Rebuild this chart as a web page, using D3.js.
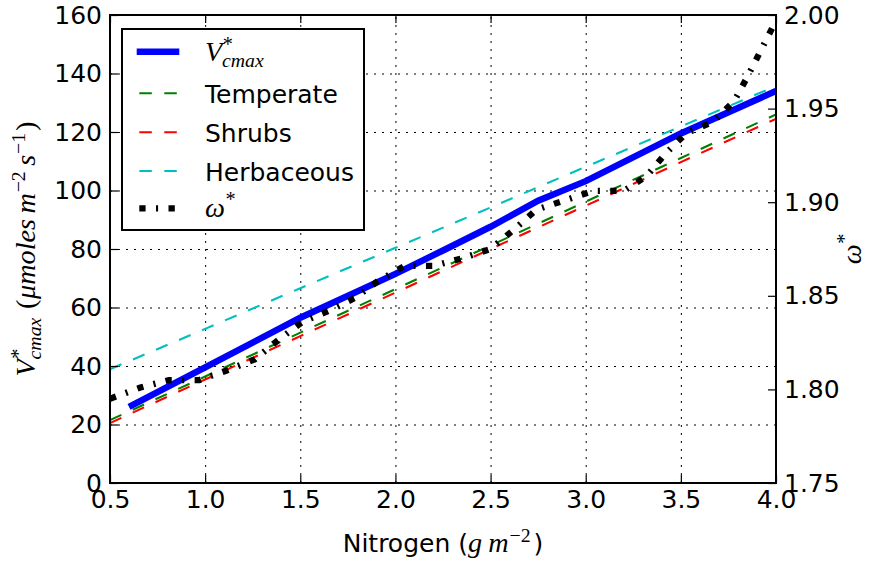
<!DOCTYPE html>
<html>
<head>
<meta charset="utf-8">
<script src="https://cdn.jsdelivr.net/npm/d3@7/dist/d3.min.js"></script>
<style>
  html, body { margin: 0; padding: 0; background: #fff; }
  svg { display: block; }
</style>
</head>
<body>
<svg id="chart" width="870" height="562"></svg>
<script>
// ---------------- data ----------------
const xTicks = [0.5, 1.0, 1.5, 2.0, 2.5, 3.0, 3.5, 4.0];
const yLeftTicks = [0, 20, 40, 60, 80, 100, 120, 140, 160];
const yRightTicks = [1.75, 1.80, 1.85, 1.90, 1.95, 2.00];

// Vcmax* (thick blue)
const nitrogenV = [0.6, 1.0, 1.5, 2.0, 2.25, 2.5, 2.75, 3.0, 3.5, 4.0];
const vcmax     = [26, 39.5, 56.5, 71.5, 79.5, 87.6, 96.5, 103.2, 119.5, 134];

// PFT dashed lines
const nitrogenPft = [0.5, 1.0, 1.5, 2.0, 2.5, 3.0, 3.5, 4.0];
const temperate   = [21.5, 36.4, 51.4, 66.3, 81.2, 96.2, 111.1, 126.0];
const shrubs      = [20.5, 35.4, 50.2, 65.1, 80.0, 94.8, 109.7, 124.5];
const herbaceous  = [38.9, 52.7, 66.6, 80.4, 94.2, 108.1, 121.9, 135.7];

// omega* (right axis)
const nitrogenW = [0.50, 0.66, 0.81, 0.97, 1.11, 1.26, 1.38, 1.51, 1.65, 1.79, 1.91, 2.05, 2.20,
                   2.35, 2.50, 2.63, 2.74, 2.89, 3.04, 3.20, 3.32, 3.42, 3.53, 3.67, 3.78, 3.85,
                   3.92, 4.00];
const omega     = [1.795, 1.801, 1.805, 1.805, 1.810, 1.816, 1.826, 1.836, 1.842, 1.849, 1.858,
                   1.866, 1.866, 1.870, 1.875, 1.886, 1.896, 1.901, 1.906, 1.906, 1.914, 1.926,
                   1.937, 1.943, 1.954, 1.967, 1.981, 1.997];

// ---------------- layout ----------------
const L = 110, R = 776, T = 15, B = 483;
const FS = 25;
const MS = 1.13; // math (serif) size factor
const svg = d3.select('#chart');
svg.append('rect').attr('width', 870).attr('height', 562).attr('fill', '#fff');

const x = d3.scaleLinear().domain([0.5, 4.0]).range([L, R]);
const yL = d3.scaleLinear().domain([0, 160]).range([B, T]);
const yR = d3.scaleLinear().domain([1.75, 2.0]).range([B, T]);

// grid
const gridStyle = g => {
  g.select('.domain').remove();
  g.selectAll('.tick line').attr('stroke', '#000').attr('stroke-width', 1)
    .attr('stroke-dasharray', '2,6');
};
svg.append('g').attr('transform', `translate(0,${B})`)
  .call(d3.axisBottom(x).tickValues(xTicks).tickSize(-(B - T)).tickFormat(''))
  .call(gridStyle);
svg.append('g').attr('transform', `translate(${L},0)`)
  .call(d3.axisLeft(yL).tickValues(yLeftTicks).tickSize(-(R - L)).tickFormat(''))
  .call(gridStyle);

// clip
svg.append('clipPath').attr('id', 'clip').append('rect')
  .attr('x', L).attr('y', T).attr('width', R - L).attr('height', B - T);
const plot = svg.append('g').attr('clip-path', 'url(#clip)');

const lineL = (xs) => d3.line().x((d, i) => x(xs[i])).y(d => yL(d));
const lineR = d3.line().x((d, i) => x(nitrogenW[i])).y(d => yR(d));

plot.append('path').datum(vcmax).attr('d', lineL(nitrogenV))
  .attr('fill', 'none').attr('stroke', '#0000ff').attr('stroke-width', 6.5);
[[temperate, '#008000'], [shrubs, '#ff0000'], [herbaceous, '#00bfbf']].forEach(([s, c]) => {
  plot.append('path').datum(s).attr('d', lineL(nitrogenPft))
    .attr('fill', 'none').attr('stroke', c).attr('stroke-width', 2.1)
    .attr('stroke-dasharray', '12.5,12.5');
});
plot.append('path').datum(omega).attr('d', lineR)
  .attr('fill', 'none').attr('stroke', '#000').attr('stroke-width', 6.3)
  .attr('stroke-dasharray', '6.3,10.4,2.1,10.4');

// axes (ticks inside)
const tickStyle = g => {
  g.select('.domain').remove();
  g.selectAll('.tick line').attr('stroke', '#000').attr('stroke-width', 1.2);
  g.selectAll('.tick text').attr('font-family', 'DejaVu Sans').attr('font-size', FS).attr('fill', '#000');
};
svg.append('g').attr('transform', `translate(0,${B})`)
  .call(d3.axisBottom(x).tickValues(xTicks).tickSize(-8).tickPadding(7).tickFormat(d3.format('.1f')))
  .call(tickStyle);
svg.append('g').attr('transform', `translate(0,${T})`)
  .call(d3.axisTop(x).tickValues(xTicks).tickSize(-8).tickFormat(''))
  .call(tickStyle);
svg.append('g').attr('transform', `translate(${L},0)`)
  .call(d3.axisLeft(yL).tickValues(yLeftTicks).tickSize(-8).tickPadding(8).tickFormat(d3.format('d')))
  .call(tickStyle);
svg.append('g').attr('transform', `translate(${R},0)`)
  .call(d3.axisRight(yR).tickValues(yRightTicks).tickSize(-8).tickPadding(8).tickFormat(d3.format('.2f')))
  .call(tickStyle);

// spines
svg.append('rect').attr('x', L).attr('y', T).attr('width', R - L).attr('height', B - T)
  .attr('fill', 'none').attr('stroke', '#000').attr('stroke-width', 2);

// ---------------- math text helper ----------------
function mathText(parent, pieces, fs) {
  const g = parent.append('g');
  let pen = 0, lastStart = 0;
  pieces.forEach(p => {
    if (p.gap) { pen += p.gap * fs; return; }
    const size = fs * (p.s || 1) * (p.sans ? 1 : MS);
    const sx = p.back ? lastStart + (p.bx || 0) * fs : pen + (p.dx || 0) * fs;
    const t = g.append('text').attr('x', sx).attr('y', (p.dy || 0) * fs)
      .attr('font-family', p.sans ? 'DejaVu Sans' : 'Liberation Serif')
      .attr('font-style', p.i ? 'italic' : 'normal')
      .attr('font-size', size).attr('fill', '#000').text(p.t);
    const w = t.node().getComputedTextLength();
    if (!p.back) lastStart = sx;
    pen = Math.max(pen, sx + w);
  });
  return { g, width: pen };
}
const vcmaxPieces = [
  { t: 'V', i: 1 },
  { t: '*', s: 0.72, dy: -0.42, dx: 0.02 },
  { t: 'cmax', i: 1, s: 0.7, dy: 0.25, back: 1, bx: -0.03 }
];

// x label
{
  const outer = svg.append('g').attr('transform', `translate(${(L + R) / 2},552)`);
  const m = mathText(outer, [
    { t: 'Nitrogen (', sans: 1 },
    { t: 'g', i: 1 }, { gap: 0.25 }, { t: 'm', i: 1 },
    { t: '\u22122', s: 0.7, dy: -0.42, dx: 0.03 },
    { t: ')', sans: 1, dx: 0.12 }
  ], FS);
  m.g.attr('transform', `translate(${-m.width / 2},0)`);
}
// left y label
{
  const outer = svg.append('g').attr('transform', `translate(35,${(T + B) / 2}) rotate(-90)`);
  const m = mathText(outer, vcmaxPieces.concat([
    { gap: 0.35 },
    { t: '(' },
    { t: '\u03bcmoles', i: 1, dx: 0.02 }, { gap: 0.22 },
    { t: 'm', i: 1 }, { t: '\u22122', s: 0.7, dy: -0.42, dx: 0.03 }, { gap: 0.22 },
    { t: 's', i: 1 }, { t: '\u22121', s: 0.7, dy: -0.42, dx: 0.03 },
    { t: ')', dx: 0.08 }
  ]), FS);
  m.g.attr('transform', `translate(${-m.width / 2},0)`);
}
// right y label
{
  const outer = svg.append('g').attr('transform', `translate(861,${(T + B) / 2}) rotate(-90)`);
  const m = mathText(outer, [
    { t: '\u03c9', i: 1 }, { t: '*', s: 0.72, dy: -0.42, dx: 0.02 }
  ], FS);
  m.g.attr('transform', `translate(${-m.width / 2},0)`);
}

// ---------------- legend ----------------
const legendRows = [51.7, 93.3, 132.3, 171, 208.3];
const lg = svg.append('g');
lg.append('rect').attr('x', 122).attr('y', 29).attr('width', 242).attr('height', 201)
  .attr('fill', '#fff').attr('stroke', '#000').attr('stroke-width', 2);
const hx1 = 136.7, hx2 = 179.3, tx = 205;
const entries = [
  { color: '#0000ff', w: 6.5, dash: null },
  { color: '#008000', w: 2.1, dash: '12.5,12.5', label: 'Temperate' },
  { color: '#ff0000', w: 2.1, dash: '12.5,12.5', label: 'Shrubs' },
  { color: '#00bfbf', w: 2.1, dash: '12.5,12.5', label: 'Herbaceous' },
  { color: '#000', w: 6.3, dash: '6.3,10.4,2.1,10.4' }
];
entries.forEach((e, i) => {
  const y = legendRows[i];
  const ln = lg.append('line').attr('x1', hx1).attr('x2', hx2).attr('y1', y).attr('y2', y)
    .attr('stroke', e.color).attr('stroke-width', e.w);
  if (e.dash) ln.attr('stroke-dasharray', e.dash).attr('stroke-dashoffset', -2.6);
  if (e.label) {
    lg.append('text').attr('x', tx).attr('y', y + 9.5).attr('font-family', 'DejaVu Sans')
      .attr('font-size', FS).attr('fill', '#000').text(e.label);
  }
});
{
  const outer = lg.append('g').attr('transform', `translate(${tx},${legendRows[0] + 9.5})`);
  mathText(outer, vcmaxPieces, FS);
  const outer2 = lg.append('g').attr('transform', `translate(${tx},${legendRows[4] + 8.5})`);
  mathText(outer2, [{ t: '\u03c9', i: 1 }, { t: '*', s: 0.72, dy: -0.42, dx: 0.02 }], FS);
}
</script>
</body>
</html>
